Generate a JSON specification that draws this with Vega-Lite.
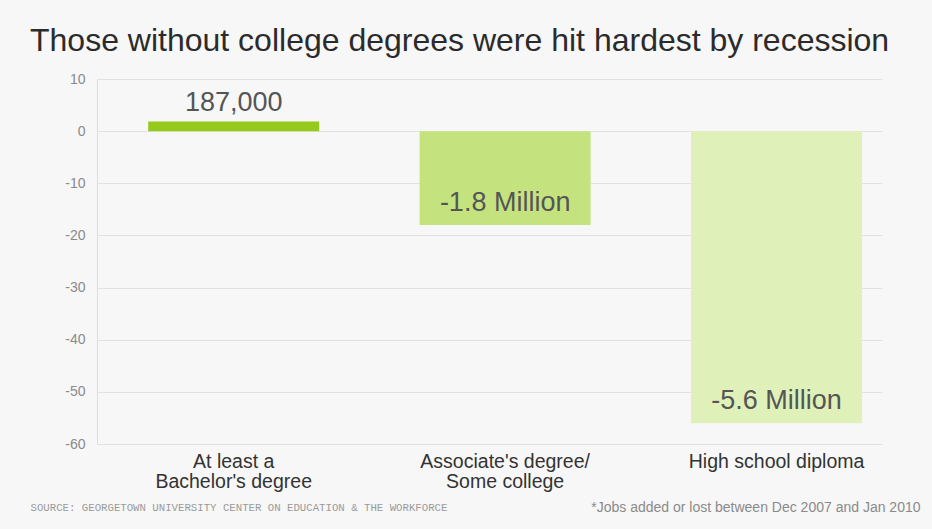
{
  "$schema": "https://vega.github.io/schema/vega-lite/v6.json",
  "autosize": "none",
  "width": 785,
  "height": 365,
  "padding": {"left": 97, "top": 79, "right": 50, "bottom": 85},
  "background": "#f7f7f7",
  "config": {
    "view": {"stroke": null},
    "font": "Liberation Sans"
  },
  "title": {
    "text": "Those without college degrees were hit hardest by recession",
    "anchor": "start",
    "frame": "group",
    "dx": -67,
    "offset": 14,
    "fontSize": 32,
    "fontWeight": "normal",
    "color": "#2b2b2b",
    "font": "Liberation Sans"
  },
  "data": {
    "values": [
      {"category": "At least a|Bachelor's degree", "value": 1.87, "label": "187,000"},
      {"category": "Associate's degree/|Some college", "value": -18, "label": "-1.8 Million"},
      {"category": "High school diploma", "value": -56, "label": "-5.6 Million"}
    ]
  },
  "encoding": {
    "x": {
      "field": "category",
      "type": "nominal",
      "sort": null,
      "scale": {"paddingInner": 0.37, "paddingOuter": 0.131, "align": 0.72},
      "axis": {
        "title": "*Jobs added or lost between Dec 2007 and Jan 2010",
        "titleAnchor": "end",
        "titleAlign": "right",
        "titleFontSize": 14,
        "titleFontWeight": "normal",
        "titleColor": "#8a8a8a",
        "titlePadding": 10,
        "titleX": 823,
        "labelExpr": "split(datum.label, '|')",
        "labelAngle": 0,
        "labelFontSize": 19.5,
        "labelColor": "#333333",
        "labelLineHeight": 20,
        "labelPadding": 8,
        "ticks": false,
        "domain": false,
        "grid": false
      }
    }
  },
  "layer": [
    {
      "mark": {"type": "bar"},
      "encoding": {
        "y": {
          "field": "value",
          "type": "quantitative",
          "scale": {"domain": [-60, 10], "nice": false},
          "axis": {
            "values": [10, 0, -10, -20, -30, -40, -50, -60],
            "labelExpr": "'' + datum.value",
            "title": "SOURCE: GEORGETOWN UNIVERSITY CENTER ON EDUCATION & THE WORKFORCE",
            "titleAngle": 0,
            "titleAlign": "left",
            "titleBaseline": "alphabetic",
            "titleX": -67,
            "titleY": 431,
            "titleFont": "Liberation Mono",
            "titleFontSize": 10.7,
            "titleFontWeight": "normal",
            "titleColor": "#9a9a9a",
            "labelFontSize": 14,
            "labelColor": "#8a8a8a",
            "labelPadding": 12,
            "grid": true,
            "gridColor": "#e2e2e6",
            "domainColor": "#dddddd",
            "ticks": false
          }
        },
        "color": {
          "field": "category",
          "type": "nominal",
          "scale": {
            "domain": ["At least a|Bachelor's degree", "Associate's degree/|Some college", "High school diploma"],
            "range": ["#95c91a", "#c4e37e", "#dff0b9"]
          },
          "legend": null
        }
      }
    },
    {
      "mark": {"type": "rule", "color": "#666666", "strokeWidth": 2},
      "encoding": {"y": {"datum": 0, "type": "quantitative"}}
    },
    {
      "transform": [{"filter": "datum.value >= 0"}],
      "mark": {"type": "text", "baseline": "alphabetic", "dy": -10, "fontSize": 27, "color": "#555555"},
      "encoding": {
        "y": {"field": "value", "type": "quantitative"},
        "text": {"field": "label"}
      }
    },
    {
      "transform": [{"filter": "datum.value < 0"}],
      "mark": {"type": "text", "baseline": "alphabetic", "dy": -14, "fontSize": 27, "color": "#555555"},
      "encoding": {
        "y": {"field": "value", "type": "quantitative"},
        "text": {"field": "label"}
      }
    }
  ]
}
